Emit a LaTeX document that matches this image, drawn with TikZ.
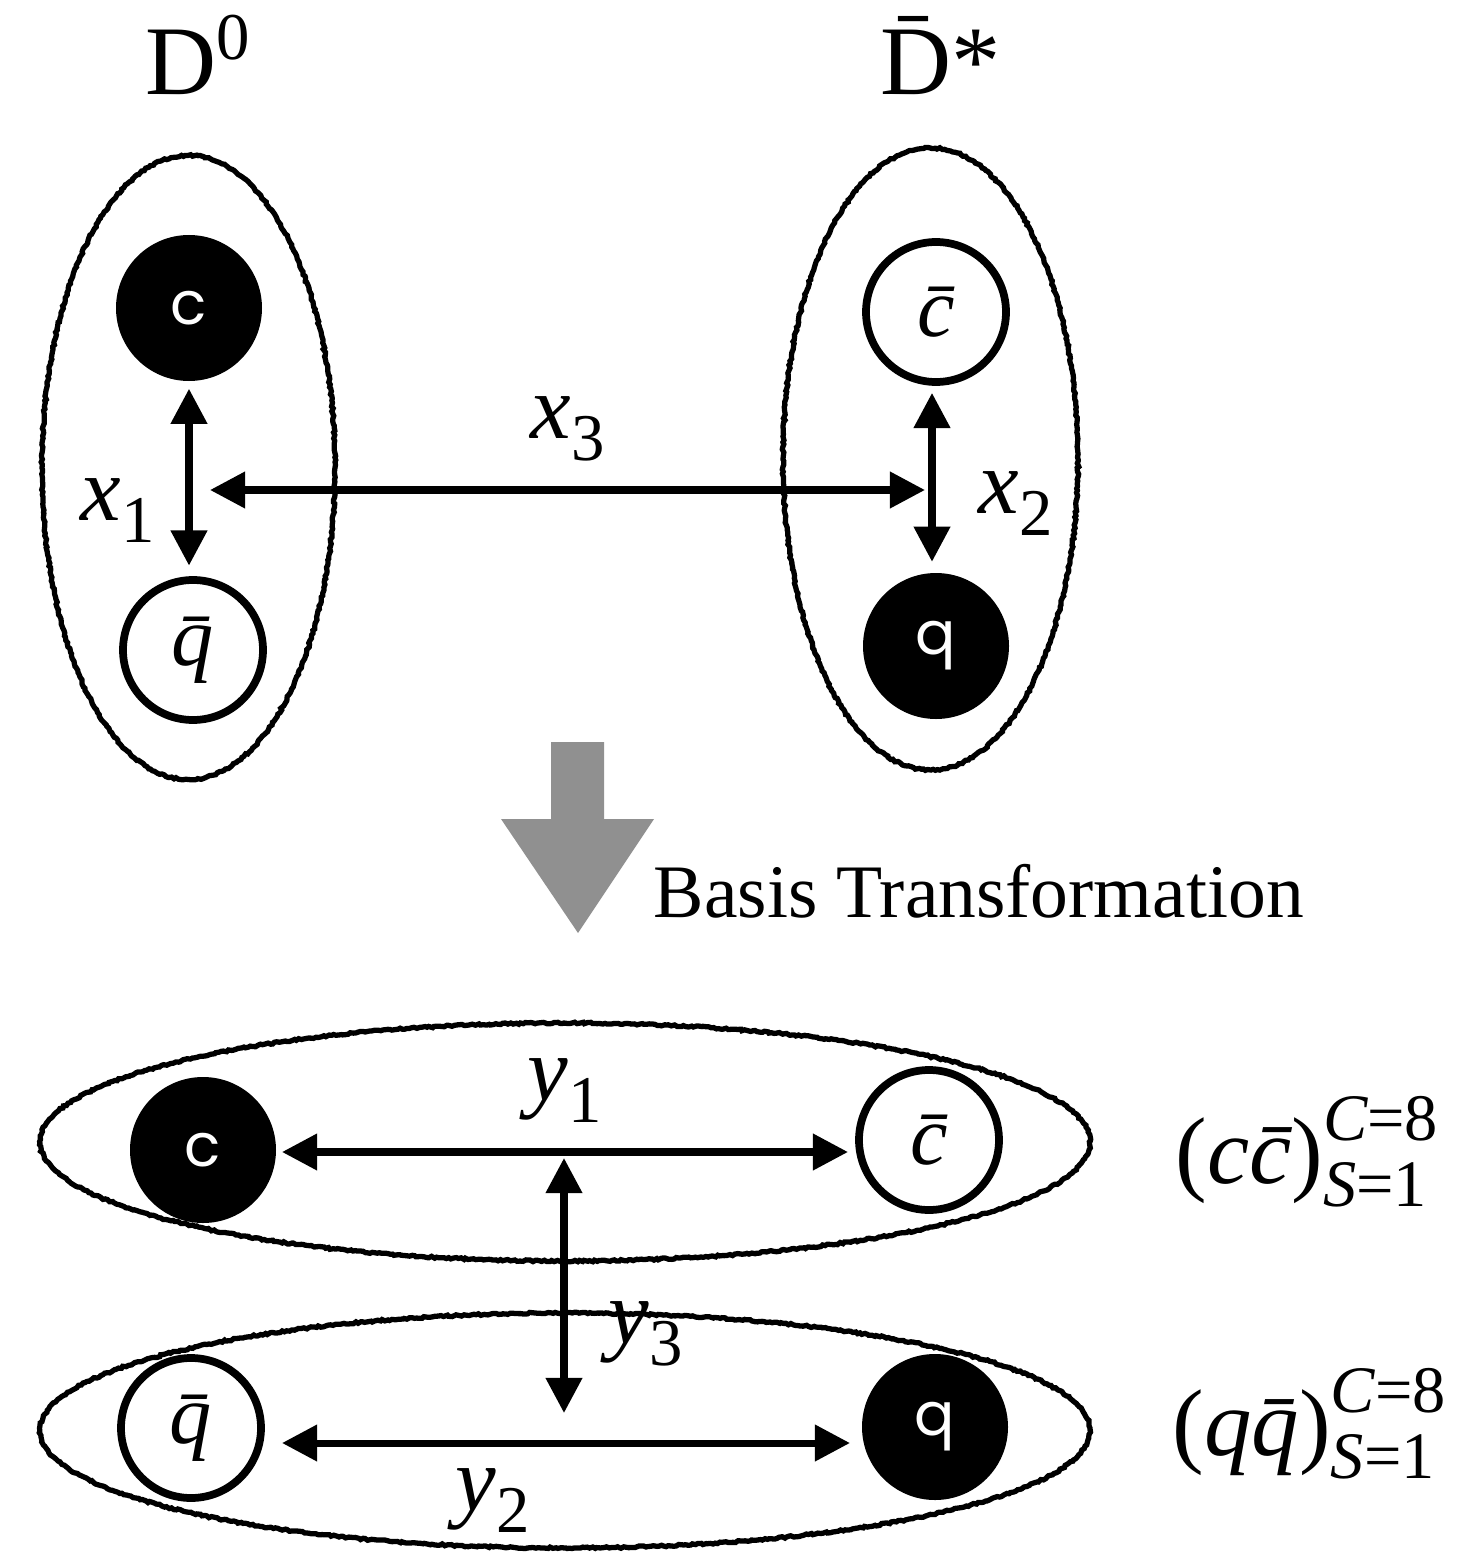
\documentclass[tikz,border=0pt]{standalone}
\usepackage{amsmath}
\usepackage{fontspec}
\setmainfont{Liberation Serif}
\newfontfamily\quarkfont{Poppins}
\usetikzlibrary{arrows.meta,decorations.pathmorphing}
\definecolor{arrowgray}{HTML}{909090}
\newcommand{\distlab}[2]{\textit{#1}\raisebox{-6.5pt}{\fontsize{19}{20}\selectfont #2}}
\begin{document}
\begin{tikzpicture}[
  quark/.style={circle,fill=black,minimum size=1.46cm,inner sep=0pt,text=white,font=\quarkfont\fontsize{17}{20}\selectfont},
  antiquark/.style={circle,draw,line width=2.2pt,minimum size=1.40cm,inner sep=0pt,font=\fontsize{24}{28}\selectfont\itshape},
  meson/.style={line width=1.5pt,decorate,decoration={random steps,segment length=0.7pt,amplitude=0.25pt}},
  dist/.style={line width=2pt,{Triangle[length=10pt,width=10pt]}-{Triangle[length=10pt,width=10pt]}},
  lab/.style={anchor=base west,inner sep=0pt,font=\fontsize{26}{30}\selectfont},
]
\useasboundingbox (0,0) rectangle (14.81,-15.56);
% Mesons
\node[lab,font=\fontsize{28}{32}\selectfont] (d0) at (1.45,-0.95) {D\raisebox{10pt}{\fontsize{19}{20}\selectfont 0}};
\node[lab,font=\fontsize{28}{32}\selectfont] (dbar) at (8.80,-0.95) {\=D*};
\draw[meson] (1.885,-4.675) ellipse [x radius=1.465, y radius=3.12];
\draw[meson] (9.305,-4.59) ellipse [x radius=1.475, y radius=3.11];
\node[quark] (cL) at (1.89,-3.08) {c};
\node[antiquark] (qbL) at (1.93,-6.50) {\=q};
\node[antiquark] (cbR) at (9.36,-3.12) {\=c};
\node[quark] (qR) at (9.36,-6.46) {q};
\coordinate (x3a) at (2.10,-4.90);
\coordinate (x3b) at (9.25,-4.90);
\draw[dist,shorten <=2pt,shorten >=3pt] (cL.south) -- (cL.south |- qbL.north);
\draw[dist,shorten <=2pt,shorten >=3pt] (9.32,-3.12 |- cbR.south) -- (9.32,-3.12 |- qR.north);
\draw[dist] (x3a) -- (x3b);
\node[lab] (x1) at (0.80,-5.20) {\distlab{x}{1}};
\node[lab] (x2) at (9.78,-5.13) {\distlab{x}{2}};
\node[lab] (x3) at (5.30,-4.38) {\distlab{x}{3}};
% Transformation
\fill[arrowgray] (5.51,-7.42) -- (6.04,-7.42) -- (6.04,-8.19) -- (6.54,-8.19) -- (5.78,-9.33) -- (5.01,-8.19) -- (5.51,-8.19) -- cycle;
\node[anchor=base west,inner sep=0pt,font=\fontsize{21.5}{24}\selectfont] (basis) at (6.53,-9.17) {Basis Transformation};
% Diquark clusters
\draw[meson] (5.65,-11.42) ellipse [x radius=5.25, y radius=1.19];
\draw[meson] (5.65,-14.305) ellipse [x radius=5.25, y radius=1.175];
\node[quark] (cB) at (2.03,-11.50) {c};
\node[antiquark] (cbB) at (9.29,-11.40) {\=c};
\node[antiquark] (qbB) at (1.91,-14.28) {\=q};
\node[quark] (qB) at (9.35,-14.27) {q};
\coordinate (y1a) at (2.82,-11.52);
\coordinate (y1b) at (8.48,-11.52);
\coordinate (y2a) at (2.82,-14.43);
\coordinate (y2b) at (8.50,-14.43);
\coordinate (y3a) at (5.64,-11.58);
\coordinate (y3b) at (5.64,-14.13);
\draw[dist] (y1a) -- (y1b);
\draw[dist] (y2a) -- (y2b);
\draw[dist] (y3a) -- (y3b);
\node[lab] (y1) at (5.27,-11.00) {\distlab{y}{1}};
\node[lab] (y2) at (4.55,-15.10) {\distlab{y}{2}};
\node[lab] (y3) at (6.08,-13.43) {\distlab{y}{3}};
\node[lab,font=\fontsize{27}{30}\selectfont] (ccbar) at (11.75,-11.83) {$\text{(}\textit{c\=c}\text{)}^{\textit{C}\text{=8}}_{\textit{S}\text{=1}}$};
\node[lab,font=\fontsize{27}{30}\selectfont] (qqbar) at (11.72,-14.55) {$\text{(}\textit{q\=q}\text{)}^{\textit{C}\text{=8}}_{\textit{S}\text{=1}}$};
\end{tikzpicture}
\end{document}
